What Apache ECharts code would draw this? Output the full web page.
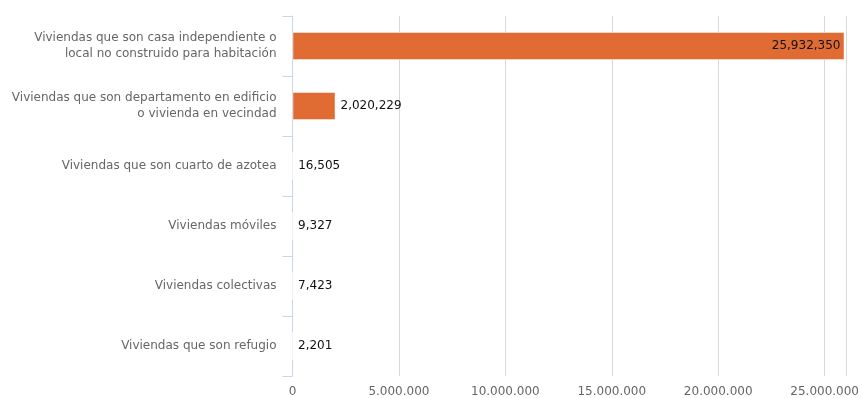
<!DOCTYPE html>
<html><head><meta charset="utf-8">
<script src="https://cdn.jsdelivr.net/npm/echarts@6/dist/echarts.min.js"></script>
<style>html,body{margin:0;padding:0;background:#fff}#c{width:862px;height:398px}</style>
</head><body><div id="c"></div>
<script>
const categories = [
  "Viviendas que son casa independiente o\nlocal no construido para habitación",
  "Viviendas que son departamento en edificio\no vivienda en vecindad",
  "Viviendas que son cuarto de azotea",
  "Viviendas móviles",
  "Viviendas colectivas",
  "Viviendas que son refugio"
];
const values = [25932350, 2020229, 16505, 9327, 7423, 2201];
const xMax = 26000000;
const xInterval = 5000000;

const fmtComma = v => Math.round(v).toString().replace(/\B(?=(\d{3})+(?!\d))/g, ",");
const fmtDot = v => Math.round(v).toString().replace(/\B(?=(\d{3})+(?!\d))/g, ".");
const font = "DejaVu Sans";

const chart = echarts.init(document.getElementById('c'), null, {renderer: 'canvas'});
chart.setOption({
  animation: false,
  textStyle: {fontFamily: font},
  grid: {left: 292.5, top: 16, width: 555, height: 360, containLabel: false},
  xAxis: {
    type: 'value', min: 0, max: xMax, interval: xInterval,
    axisLine: {show: false}, axisTick: {show: false},
    splitLine: {show: true, lineStyle: {color: '#d8d8d8', width: 1}},
    axisLabel: {color: '#666', fontSize: 12, fontFamily: font, margin: 10,
      formatter: v => v > xMax - 1 ? '' : fmtDot(v)}
  },
  yAxis: {
    type: 'category', data: categories, inverse: true,
    axisLine: {show: true, lineStyle: {color: '#ccd6eb', width: 1}},
    axisTick: {show: true, length: 10, lineStyle: {color: '#ccd6eb'}},
    splitLine: {show: false},
    axisLabel: {color: '#666', fontSize: 12, fontFamily: font, margin: 16, lineHeight: 16, align: 'right'}
  },
  series: [{
    type: 'bar', data: values.map((v, i) => ({
      value: v,
      label: i === 0 ? {position: 'insideRight', distance: 4} : {position: 'right', distance: 5}
    })),
    barWidth: 28,
    itemStyle: {color: '#e06c33', borderColor: 'rgba(255,255,255,0.45)', borderWidth: 1},
    label: {show: true, color: '#111', fontSize: 12, fontFamily: font,
      formatter: p => fmtComma(p.value)}
  }]
});
</script></body></html>
